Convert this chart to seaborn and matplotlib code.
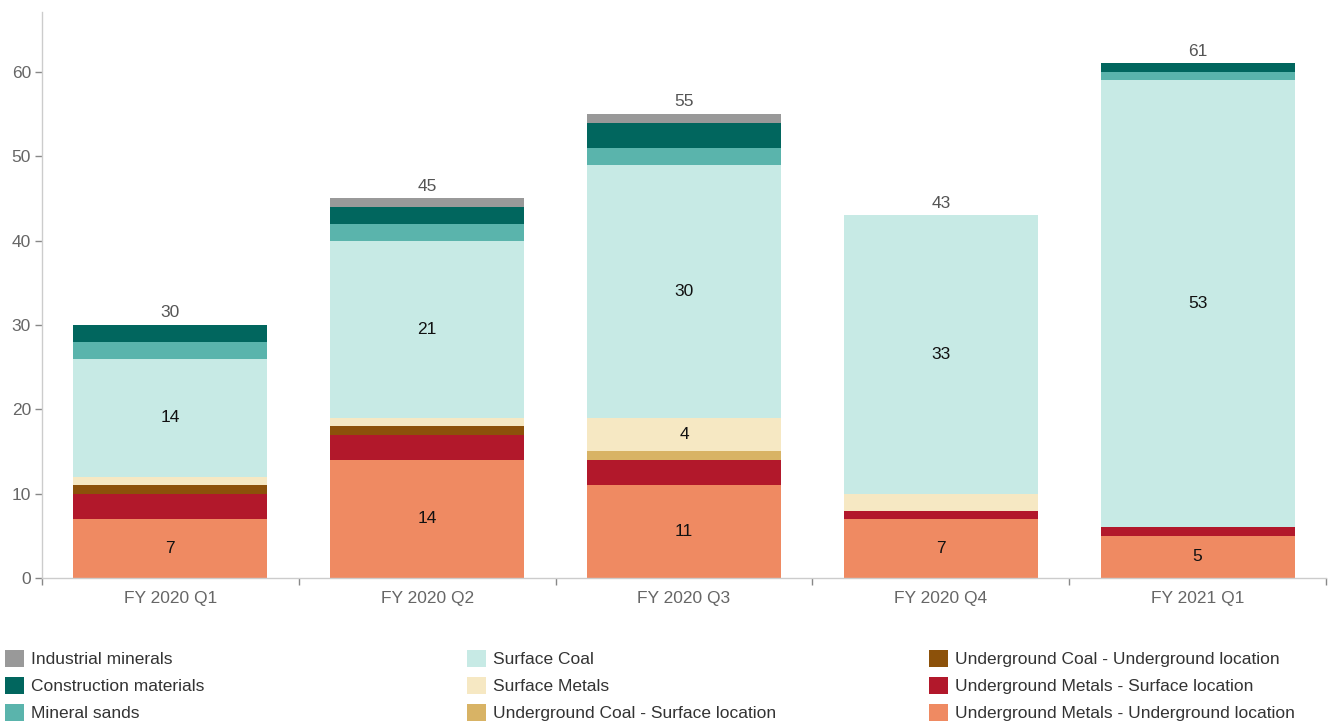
import numpy as np
import pandas as pd
import matplotlib
matplotlib.use("Agg")
import matplotlib.pyplot as plt
from matplotlib.patches import Patch
import seaborn as sns

quarters = ["FY 2020 Q1", "FY 2020 Q2", "FY 2020 Q3", "FY 2020 Q4", "FY 2021 Q1"]

# stacked from bottom to top
um_underground = [7, 14, 11, 7, 5]
um_surface = [3, 3, 3, 1, 1]
uc_underground = [1, 1, 0, 0, 0]
uc_surface = [0, 0, 1, 0, 0]
surface_metals = [1, 1, 4, 2, 0]
surface_coal = [14, 21, 30, 33, 53]
mineral_sands = [2, 2, 2, 0, 1]
construction = [2, 2, 3, 0, 1]
industrial = [0, 1, 1, 0, 0]

series_names = [
    "Underground Metals - Underground location",
    "Underground Metals - Surface location",
    "Underground Coal - Underground location",
    "Underground Coal - Surface location",
    "Surface Metals",
    "Surface Coal",
    "Mineral sands",
    "Construction materials",
    "Industrial minerals",
]
series_values = [um_underground, um_surface, uc_underground, uc_surface,
                 surface_metals, surface_coal, mineral_sands, construction, industrial]
series_colors = ["#EF8A62", "#B2182B", "#8C510A", "#D8B365", "#F6E8C3",
                 "#C7EAE5", "#5AB4AC", "#01665E", "#999999"]

legend_cols = [
    ["Industrial minerals", "Construction materials", "Mineral sands"],
    ["Surface Coal", "Surface Metals", "Underground Coal - Surface location"],
    ["Underground Coal - Underground location", "Underground Metals - Surface location",
     "Underground Metals - Underground location"],
]

sns.set_theme(style="white")
plt.rcParams["font.family"] = ["Liberation Sans", "DejaVu Sans"]

fig = plt.figure(figsize=(13.32, 7.24), dpi=100)
ax = fig.add_axes([42 / 1332, 1 - 578 / 724, (1326 - 42) / 1332, (578 - 12) / 724])

vals = np.array(series_values, dtype=float)
cum = np.cumsum(vals, axis=0)
bar_w = 0.755

# draw cumulative bars from top layer down so each lower layer overlays
for i in range(len(series_names) - 1, -1, -1):
    df = pd.DataFrame({"quarter": quarters, "value": cum[i]})
    sns.barplot(data=df, x="quarter", y="value", order=quarters, color=series_colors[i],
                saturation=1, width=bar_w, ax=ax, linewidth=0, edgecolor="none")

FS = 12.5

# segment labels
for i in range(len(series_names)):
    for j in range(len(quarters)):
        v = vals[i, j]
        if v >= 4:
            ymid = cum[i, j] - v / 2
            ax.text(j, ymid, f"{int(v)}", ha="center", va="center", fontsize=FS, color="#111111")

totals = cum[-1]
for j, t in enumerate(totals):
    ax.text(j, t + 0.55, f"{int(t)}", ha="center", va="bottom", fontsize=FS, color="#555555")

ax.set_xlim(-0.5, 4.5)
ax.set_ylim(0, 67.1)
ax.set_yticks([0, 10, 20, 30, 40, 50, 60])
ax.set_xlabel("")
ax.set_ylabel("")
for s in ["top", "right"]:
    ax.spines[s].set_visible(False)
for s in ["left", "bottom"]:
    ax.spines[s].set_color("#cccccc")
    ax.spines[s].set_linewidth(1)

ax.tick_params(axis="y", which="major", left=True, length=5, width=1, color="#888888",
               labelsize=FS, labelcolor="#666666", pad=3)
ax.tick_params(axis="x", which="major", bottom=False, length=0, labelsize=FS,
               labelcolor="#666666", pad=9)
ax.set_xticks(np.arange(-0.5, 5.0, 1.0), minor=True)
ax.tick_params(axis="x", which="minor", bottom=True, length=5, width=1, color="#888888")

color_map = dict(zip(series_names, series_colors))
xpos = [5 / 1332, 467 / 1332, 929 / 1332]
for k, col in enumerate(legend_cols):
    handles = [Patch(facecolor=color_map[n], edgecolor="none") for n in col]
    fig.legend(handles=handles, labels=col, loc="upper left",
               bbox_to_anchor=(xpos[k], 1 - 650 / 724), frameon=False, fontsize=FS,
               handlelength=1.1, handleheight=1.1, handletextpad=0.42,
               labelspacing=0.56, borderaxespad=0, borderpad=0, labelcolor="#333333")

fig.savefig("out.png", dpi=100)
